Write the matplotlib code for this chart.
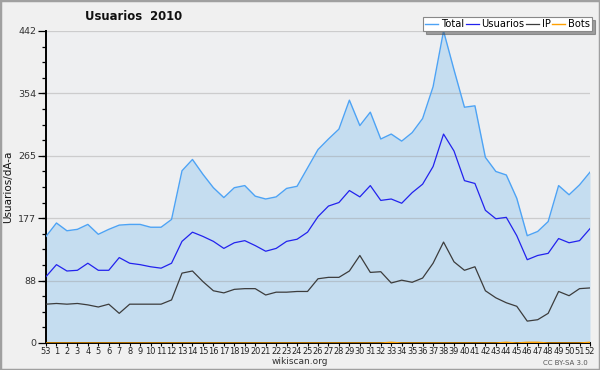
import matplotlib
matplotlib.use("Agg")
import matplotlib.pyplot as plt
from matplotlib.ticker import FixedLocator, MultipleLocator
import numpy as np

weeks = ["53"] + [str(w) for w in range(1, 53)]

total = [151, 170, 159, 161, 168, 154, 161, 167, 168, 168,
         164, 164, 175, 244, 260, 239, 220, 206, 220, 223,
         208, 204, 207, 219, 222, 248, 274, 289, 303, 344,
         308, 327, 289, 296, 286, 298, 318, 363, 442, 387,
         334, 336, 263, 243, 238, 205, 152, 158, 172, 223,
         210, 224, 242]

usuarios = [94, 111, 102, 103, 113, 103, 103, 121, 113, 111,
            108, 106, 113, 144, 157, 151, 144, 134, 142, 145,
            138, 130, 134, 144, 147, 157, 179, 194, 199, 216,
            207, 223, 202, 204, 198, 213, 225, 250, 296, 272,
            230, 226, 188, 176, 178, 152, 118, 124, 127, 148,
            142, 145, 162]

ip = [55, 56, 55, 56, 54, 51, 55, 42, 55, 55,
      55, 55, 61, 99, 102, 87, 74, 71, 76, 77,
      77, 68, 72, 72, 73, 73, 91, 93, 93, 102,
      124, 100, 101, 85, 89, 86, 92, 113, 143, 115,
      103, 108, 74, 64, 57, 52, 31, 33, 42, 73,
      67, 77, 78]

bots = [0] * 53
for k in (33, 44, 46, 47, 52):
    bots[k] = 1

y_ticks = [0, 88, 177, 265, 354, 442]

total_color = "#4da3f5"
usuarios_color = "#2222ee"
ip_color = "#3c3c3c"
bots_color = "#ffa000"

fig = plt.figure(figsize=(6.0, 3.7), dpi=100, facecolor="#f0f0f0")
ax = fig.add_axes([46 / 600, 27 / 370, 544 / 600, 312 / 370])
ax.set_facecolor("#eeeff1")

x = np.arange(len(weeks))
ax.fill_between(x, 0, total, color="#c5ddf0", zorder=1, linewidth=0)
for t in y_ticks[1:]:
    ax.axhline(t, color="#999999", alpha=0.4, linewidth=0.9, zorder=2)

ax.plot(x, bots, color=bots_color, linewidth=1.0, zorder=3, label="Bots")
ax.plot(x, ip, color=ip_color, linewidth=0.9, zorder=4, label="IP")
ax.plot(x, usuarios, color=usuarios_color, linewidth=0.9, zorder=5, label="Usuarios")
ax.plot(x, total, color=total_color, linewidth=1.0, zorder=6, label="Total")

ax.set_xlim(0, len(weeks) - 1)
ax.set_ylim(0, 442)
ax.set_xticks(x)
ax.set_xticklabels(weeks, fontsize=6.6, color="#222222")
ax.yaxis.set_major_locator(FixedLocator(y_ticks))
ax.yaxis.set_minor_locator(MultipleLocator(442 / 20))
ax.set_yticklabels([str(t) for t in y_ticks], fontsize=6.8, color="#333333")
ax.tick_params(axis="x", length=2, pad=1, width=0.8)
ax.tick_params(axis="y", which="major", length=6, width=0.9, pad=1)
ax.tick_params(axis="y", which="minor", length=3, width=0.9)
for lbl in ax.get_xticklabels():
    lbl.set_fontstretch("condensed")

for side in ("top", "right"):
    ax.spines[side].set_visible(False)
for side in ("left", "bottom"):
    ax.spines[side].set_linewidth(1.4)
    ax.spines[side].set_color("black")

ax.set_ylabel("Usuarios/dÃ-a", fontsize=7.5, color="#111111")
ax.yaxis.set_label_coords(-0.061, 0.5)

fig.text(85 / 600, 1 - 17 / 370, "Usuarios  2010", fontsize=8.4,
         fontweight="bold", va="center", ha="left", color="#111111")

handles, labels = ax.get_legend_handles_labels()
order = [3, 2, 1, 0]
leg = fig.legend([handles[i] for i in order], [labels[i] for i in order],
                 loc="upper right", bbox_to_anchor=(592 / 600, 1 - 17 / 370),
                 ncol=4, fontsize=7.1, frameon=True, fancybox=False, shadow=True,
                 handlelength=1.3, handletextpad=0.3, columnspacing=0.15,
                 borderpad=0.2, borderaxespad=0)
leg.get_frame().set_edgecolor("#888888")
leg.get_frame().set_linewidth(0.8)
leg.set_zorder(10)

fig.text(0.5, 1 - 362 / 370, "wikiscan.org", fontsize=6.5, ha="center",
         va="center", color="#333333")
fig.text(588 / 600, 1 - 363 / 370, "CC BY-SA 3.0", fontsize=5,
         ha="right", va="center", color="#555555")

border = plt.Rectangle((0, 0), 1, 1, transform=fig.transFigure, fill=False,
                       edgecolor="#a0a0a0", linewidth=2.5)
fig.patches.append(border)

fig.savefig("out.png", dpi=100, facecolor=fig.get_facecolor())
